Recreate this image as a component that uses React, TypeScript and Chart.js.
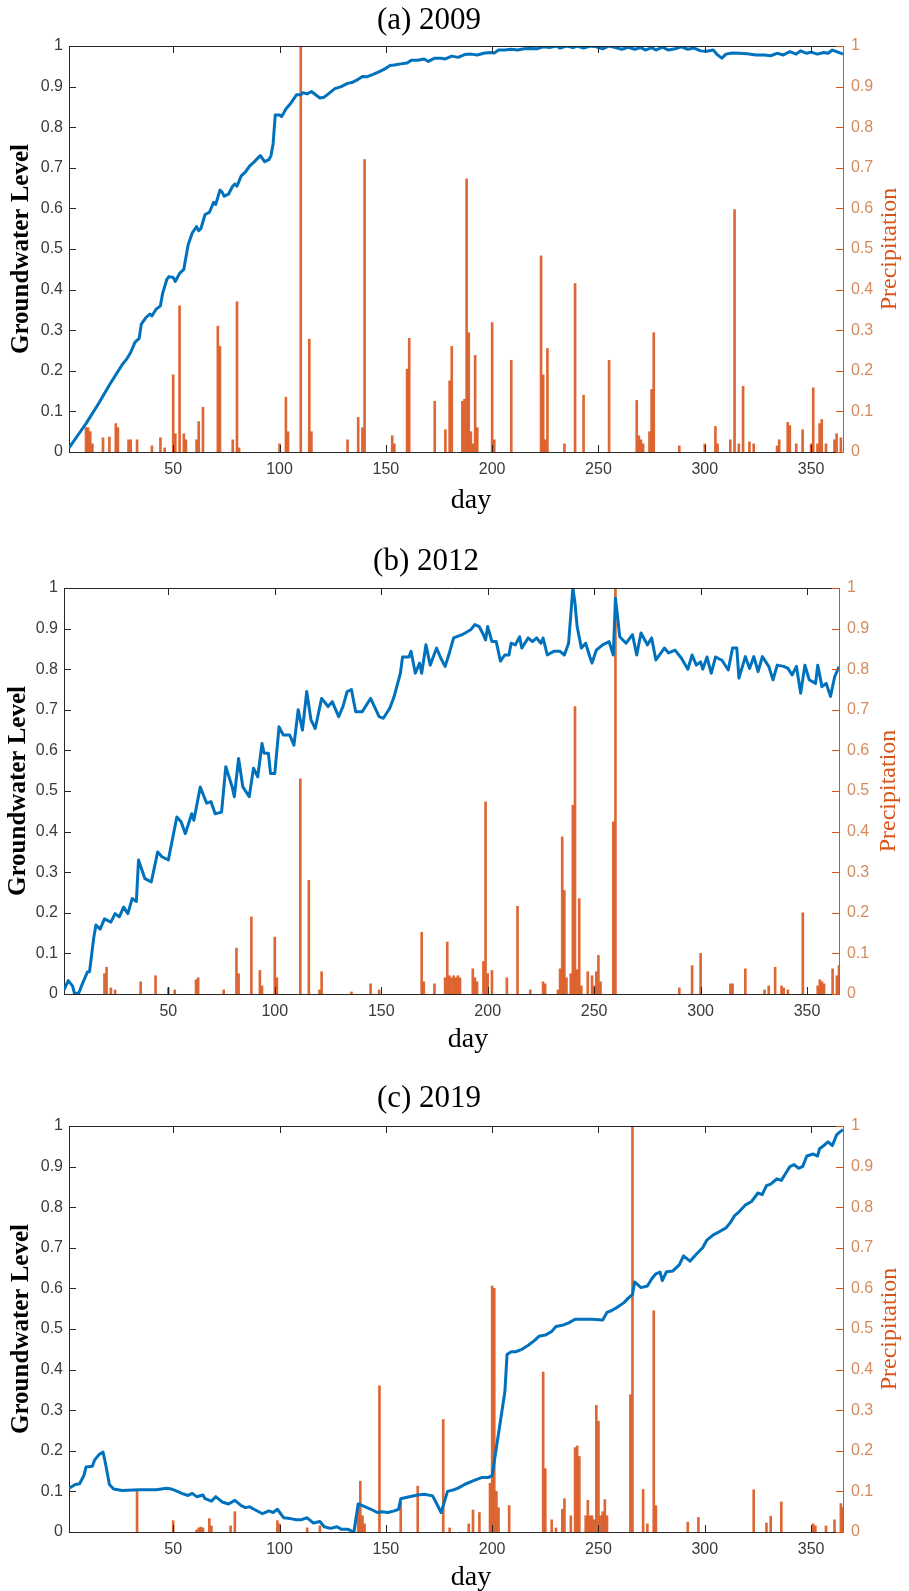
import React, { useEffect, useRef } from "react";
import { Chart, registerables } from "chart.js";

Chart.register(...registerables);

// ---------- shared axis data ----------
const DAY_MIN = 1;
const DAY_MAX = 365;
const X_TICKS = [50, 100, 150, 200, 250, 300, 350];
const X_TICK_LABELS = ["50", "100", "150", "200", "250", "300", "350"];
const Y_TICKS = [0, 0.1, 0.2, 0.3, 0.4, 0.5, 0.6, 0.7, 0.8, 0.9, 1];
const Y_TICK_LABELS = ["0", "0.1", "0.2", "0.3", "0.4", "0.5", "0.6", "0.7", "0.8", "0.9", "1"];
const X_TITLE = "day";
const Y_TITLE = "Groundwater Level";
const Y1_TITLE = "Precipitation";

// ---------- (a) 2009 ----------
const A_GW_DAY = [1, 5, 9, 15, 20, 23, 26, 28, 30, 32, 34, 35, 37, 39, 40, 42, 44, 45, 47, 48, 50, 51, 53, 55, 57, 59, 61, 62, 63, 65, 67, 69, 70, 72, 73, 74, 76, 78, 79, 80, 82, 84, 86, 88, 90, 91, 93, 95, 96, 97, 98, 100, 101, 103, 105, 107, 108, 110, 111, 113, 115, 117, 119, 121, 123, 126, 129, 132, 134, 137, 139, 141, 144, 147, 150, 152, 154, 157, 160, 162, 165, 168, 170, 173, 176, 178, 181, 184, 187, 190, 193, 196, 199, 201, 203, 206, 209, 212, 215, 218, 221, 224, 227, 230, 232, 235, 238, 240, 243, 246, 249, 252, 255, 258, 261, 264, 267, 270, 272, 275, 277, 280, 283, 286, 289, 292, 295, 298, 301, 304, 306, 308, 310, 313, 316, 320, 324, 328, 331, 334, 337, 340, 343, 345, 348, 350, 353, 356, 358, 360, 362, 365];
const A_GW = [0.01, 0.04, 0.07, 0.12, 0.165, 0.19, 0.215, 0.228, 0.245, 0.27, 0.28, 0.315, 0.33, 0.34, 0.335, 0.352, 0.36, 0.39, 0.425, 0.432, 0.43, 0.42, 0.44, 0.45, 0.51, 0.54, 0.555, 0.545, 0.55, 0.585, 0.59, 0.615, 0.61, 0.645, 0.64, 0.63, 0.635, 0.655, 0.66, 0.655, 0.68, 0.69, 0.705, 0.714, 0.725, 0.73, 0.715, 0.72, 0.73, 0.76, 0.83, 0.83, 0.826, 0.845, 0.857, 0.872, 0.88, 0.88, 0.885, 0.882, 0.888, 0.88, 0.872, 0.874, 0.882, 0.895, 0.9, 0.908, 0.91, 0.918, 0.925, 0.924, 0.93, 0.937, 0.945, 0.952, 0.953, 0.956, 0.958, 0.965, 0.965, 0.968, 0.962, 0.97, 0.97, 0.968, 0.975, 0.972, 0.979, 0.98, 0.978, 0.982, 0.984, 0.983, 0.99, 0.99, 0.992, 0.99, 0.993, 0.994, 0.993, 0.998, 0.996, 1.0, 0.995, 1.0, 0.996, 1.0, 0.995, 1.0, 0.998, 0.993, 1.0, 0.996, 0.992, 0.997, 0.992, 0.996, 0.99, 0.996, 0.99, 0.997, 0.99, 0.993, 0.998, 0.992, 0.995, 0.988, 0.987, 0.99, 0.978, 0.97, 0.98, 0.983, 0.982, 0.981, 0.978, 0.978, 0.976, 0.982, 0.978, 0.986, 0.98, 0.988, 0.982, 0.985, 0.98, 0.984, 0.982, 0.99, 0.986, 0.98];
const A_RAIN_DAY = [9, 10, 11, 12, 17, 20, 23, 24, 29, 30, 33, 40, 44, 46, 50, 51, 53, 55, 56, 61, 62, 64, 71, 72, 78, 80, 81, 100, 103, 104, 110, 114, 115, 132, 137, 139, 140, 153, 154, 160, 161, 173, 178, 180, 181, 186, 187, 188, 189, 190, 191, 192, 193, 200, 201, 209, 223, 224, 225, 226, 234, 239, 243, 255, 268, 269, 270, 271, 274, 275, 276, 288, 300, 305, 306, 312, 314, 316, 318, 321, 323, 334, 335, 339, 340, 343, 346, 350, 351, 353, 354, 355, 357, 361, 362, 364];
const A_RAIN = [0.06, 0.06, 0.05, 0.02, 0.035, 0.037, 0.07, 0.06, 0.03, 0.03, 0.03, 0.015, 0.035, 0.01, 0.19, 0.045, 0.36, 0.045, 0.03, 0.03, 0.075, 0.11, 0.31, 0.26, 0.03, 0.37, 0.01, 0.02, 0.135, 0.05, 1.0, 0.278, 0.05, 0.03, 0.085, 0.06, 0.72, 0.04, 0.02, 0.204, 0.28, 0.125, 0.055, 0.175, 0.26, 0.125, 0.13, 0.673, 0.294, 0.05, 0.02, 0.238, 0.06, 0.319, 0.03, 0.226, 0.483, 0.19, 0.03, 0.255, 0.02, 0.415, 0.14, 0.226, 0.127, 0.04, 0.03, 0.02, 0.05, 0.154, 0.294, 0.015, 0.02, 0.063, 0.02, 0.03, 0.597, 0.02, 0.162, 0.025, 0.02, 0.015, 0.03, 0.073, 0.065, 0.02, 0.055, 0.02, 0.158, 0.02, 0.07, 0.08, 0.02, 0.03, 0.045, 0.035];

// ---------- (b) 2012 ----------
const B_GW_DAY = [1, 3, 5, 6, 8, 10, 12, 13, 15, 16, 18, 20, 23, 25, 27, 29, 31, 33, 35, 36, 39, 42, 45, 47, 50, 54, 56, 58, 61, 62, 65, 68, 70, 72, 75, 77, 80, 81, 83, 85, 88, 90, 92, 94, 95, 97, 98, 100, 102, 104, 107, 109, 111, 113, 115, 117, 119, 122, 125, 127, 130, 132, 134, 136, 138, 141, 145, 149, 151, 154, 156, 159, 160, 163, 164, 166, 168, 169, 171, 173, 176, 178, 180, 182, 184, 188, 192, 194, 196, 198, 199, 200, 202, 204, 206, 208, 210, 211, 213, 215, 216, 219, 221, 223, 225, 226, 228, 231, 234, 236, 238, 240, 241, 242, 244, 246, 248, 249, 251, 254, 257, 259, 260, 261, 262, 265, 268, 270, 272, 275, 277, 279, 283, 285, 288, 291, 294, 296, 298, 300, 301, 303, 305, 307, 310, 313, 315, 317, 318, 321, 323, 325, 327, 329, 332, 334, 336, 339, 341, 343, 345, 347, 349, 351, 354, 355, 357, 359, 361, 363, 365];
const B_GW = [0.01, 0.033, 0.02, 0.0, 0.003, 0.03, 0.054, 0.055, 0.14, 0.17, 0.16, 0.185, 0.177, 0.198, 0.19, 0.214, 0.198, 0.235, 0.228, 0.33, 0.284, 0.276, 0.35, 0.338, 0.33, 0.436, 0.424, 0.395, 0.444, 0.428, 0.51, 0.47, 0.474, 0.444, 0.448, 0.56, 0.51, 0.486, 0.58, 0.51, 0.486, 0.556, 0.535, 0.617, 0.593, 0.593, 0.543, 0.543, 0.658, 0.638, 0.638, 0.613, 0.7, 0.65, 0.745, 0.675, 0.654, 0.728, 0.708, 0.72, 0.683, 0.708, 0.745, 0.75, 0.695, 0.695, 0.728, 0.683, 0.679, 0.704, 0.732, 0.79, 0.83, 0.83, 0.844, 0.79, 0.815, 0.79, 0.86, 0.81, 0.852, 0.827, 0.807, 0.84, 0.877, 0.885, 0.897, 0.91, 0.905, 0.885, 0.872, 0.905, 0.868, 0.868, 0.82, 0.835, 0.835, 0.864, 0.86, 0.88, 0.852, 0.877, 0.868, 0.877, 0.864, 0.877, 0.835, 0.844, 0.844, 0.835, 0.864, 1.0, 0.963, 0.905, 0.852, 0.864, 0.83, 0.815, 0.847, 0.86, 0.868, 0.835, 0.975, 0.93, 0.88, 0.864, 0.885, 0.835, 0.889, 0.86, 0.877, 0.823, 0.852, 0.84, 0.847, 0.827, 0.8, 0.835, 0.81, 0.818, 0.8, 0.83, 0.79, 0.83, 0.822, 0.798, 0.852, 0.852, 0.778, 0.831, 0.802, 0.831, 0.794, 0.831, 0.807, 0.774, 0.81, 0.807, 0.802, 0.786, 0.807, 0.741, 0.81, 0.774, 0.765, 0.81, 0.757, 0.765, 0.733, 0.782, 0.806];
const B_RAIN_DAY = [20, 21, 23, 25, 37, 44, 50, 53, 63, 64, 76, 82, 83, 89, 93, 94, 100, 101, 112, 116, 121, 122, 136, 145, 149, 169, 170, 175, 180, 181, 182, 183, 184, 185, 186, 187, 193, 194, 195, 198, 199, 200, 202, 209, 214, 220, 226, 227, 233, 234, 235, 236, 237, 239, 240, 241, 242, 243, 244, 247, 249, 250, 251, 252, 253, 259, 260, 290, 296, 300, 314, 315, 321, 330, 332, 335, 338, 339, 341, 348, 355, 356, 357, 358, 362, 364, 365];
const B_RAIN = [0.05, 0.066, 0.015, 0.01, 0.03, 0.045, 0.015, 0.01, 0.035, 0.04, 0.01, 0.113, 0.05, 0.19, 0.058, 0.02, 0.14, 0.04, 0.53, 0.28, 0.01, 0.055, 0.005, 0.025, 0.01, 0.152, 0.03, 0.025, 0.04, 0.128, 0.045, 0.04, 0.045, 0.04, 0.045, 0.04, 0.062, 0.04, 0.03, 0.08, 0.473, 0.05, 0.058, 0.04, 0.216, 0.01, 0.03, 0.025, 0.01, 0.062, 0.387, 0.255, 0.04, 0.05, 0.465, 0.708, 0.06, 0.235, 0.02, 0.055, 0.045, 0.02, 0.055, 0.095, 0.03, 0.424, 1.0, 0.015, 0.07, 0.1, 0.025, 0.025, 0.062, 0.01, 0.02, 0.066, 0.02, 0.015, 0.01, 0.2, 0.02, 0.035, 0.03, 0.025, 0.062, 0.045, 0.07];

// ---------- (c) 2019 ----------
const C_GW_DAY = [1, 4, 6, 8, 9, 12, 13, 15, 17, 18, 20, 22, 26, 34, 42, 47, 49, 52, 54, 57, 59, 61, 64, 65, 68, 70, 73, 76, 79, 82, 84, 86, 88, 92, 95, 97, 99, 102, 105, 108, 110, 113, 116, 119, 121, 124, 127, 129, 132, 135, 137, 139, 143, 146, 148, 151, 154, 156, 157, 161, 165, 168, 172, 174, 176, 177, 179, 182, 184, 187, 191, 195, 198, 200, 202, 204, 206, 207, 209, 211, 214, 217, 220, 222, 225, 228, 230, 233, 236, 239, 242, 247, 252, 254, 256, 259, 262, 264, 266, 267, 270, 273, 275, 277, 279, 280, 282, 285, 288, 290, 293, 296, 299, 301, 304, 307, 310, 312, 314, 316, 319, 322, 325, 327, 329, 331, 334, 336, 338, 340, 342, 344, 346, 348, 351, 353, 354, 356, 358, 360, 362, 363, 365];
const C_GW = [0.108, 0.117, 0.119, 0.139, 0.16, 0.162, 0.177, 0.19, 0.197, 0.173, 0.117, 0.106, 0.102, 0.104, 0.104, 0.108, 0.106, 0.1, 0.095, 0.09, 0.095, 0.087, 0.091, 0.082, 0.076, 0.087, 0.074, 0.069, 0.078, 0.065, 0.06, 0.062, 0.056, 0.045, 0.052, 0.048, 0.056, 0.035, 0.033, 0.03, 0.03, 0.035, 0.022, 0.026, 0.013, 0.009, 0.013, 0.007, 0.007, 0.0, 0.069, 0.065, 0.056, 0.048, 0.05, 0.048, 0.052, 0.056, 0.082, 0.087, 0.091, 0.093, 0.089, 0.069, 0.048, 0.065, 0.1, 0.104, 0.108, 0.117, 0.126, 0.134, 0.134, 0.139, 0.208, 0.277, 0.346, 0.437, 0.444, 0.444, 0.45, 0.46, 0.472, 0.482, 0.485, 0.494, 0.506, 0.509, 0.515, 0.524, 0.524, 0.524, 0.522, 0.541, 0.545, 0.554, 0.565, 0.576, 0.585, 0.616, 0.602, 0.606, 0.623, 0.636, 0.64, 0.619, 0.641, 0.643, 0.658, 0.68, 0.667, 0.684, 0.7, 0.719, 0.732, 0.74, 0.749, 0.762, 0.779, 0.788, 0.805, 0.814, 0.835, 0.831, 0.853, 0.857, 0.87, 0.866, 0.883, 0.9, 0.905, 0.896, 0.9, 0.926, 0.931, 0.926, 0.944, 0.952, 0.961, 0.952, 0.978, 0.983, 0.991];
const C_RAIN_DAY = [33, 50, 61, 62, 63, 64, 67, 68, 77, 79, 99, 100, 113, 119, 137, 138, 139, 140, 147, 157, 165, 177, 180, 189, 191, 194, 199, 200, 201, 202, 203, 208, 224, 225, 228, 230, 233, 234, 237, 239, 240, 241, 244, 245, 246, 247, 248, 249, 250, 251, 252, 253, 254, 265, 266, 271, 273, 276, 277, 292, 297, 323, 329, 331, 336, 351, 352, 357, 361, 364, 365];
const C_RAIN = [0.105, 0.028, 0.005, 0.01, 0.012, 0.01, 0.033, 0.015, 0.015, 0.05, 0.028, 0.02, 0.01, 0.015, 0.07, 0.125, 0.04, 0.02, 0.36, 0.074, 0.113, 0.277, 0.01, 0.02, 0.054, 0.048, 0.12, 0.606, 0.6, 0.1, 0.06, 0.065, 0.394, 0.156, 0.03, 0.01, 0.056, 0.082, 0.04, 0.208, 0.212, 0.186, 0.04, 0.078, 0.04, 0.04, 0.03, 0.312, 0.273, 0.04, 0.05, 0.08, 0.04, 0.338, 1.0, 0.105, 0.02, 0.545, 0.065, 0.024, 0.036, 0.104, 0.022, 0.039, 0.074, 0.02, 0.015, 0.015, 0.03, 0.07, 0.06];

// ---------- styling ----------
const SERIF = '"Liberation Serif", "Times New Roman", serif';
const SANS = '"Liberation Sans", Arial, sans-serif';
const AXIS_COLOR = "#262626";
const LEFT_TICK_COLOR = "#3a3a3a";
const RIGHT_COLOR = "#D95319";
const RIGHT_TICK_COLOR = "#d48a5c";
const LINE_COLOR = "#0072BD";
const BAR_COLOR = "rgba(217,83,25,0.88)";
const TICK_LEN = 7;

type PanelSpec = {
  key: string;
  title: string;
  gwDay: number[];
  gw: number[];
  rainDay: number[];
  rain: number[];
  top: number;
  h: number;
  padTop: number;
  xH: number;
  wL: number;
  wR: number;
  titleX: number;
  titleY: number;
  dayX: number;
  dayY: number;
  glX: number;
  prX: number;
};

const PANELS: PanelSpec[] = [
  { key: "a", title: "(a) 2009", gwDay: A_GW_DAY, gw: A_GW, rainDay: A_RAIN_DAY, rain: A_RAIN,
    top: 0, h: 517, padTop: 46, xH: 65, wL: 69, wR: 66, titleX: 429, titleY: 21, dayX: 471, dayY: 501, glX: 22, prX: 890 },
  { key: "b", title: "(b) 2012", gwDay: B_GW_DAY, gw: B_GW, rainDay: B_RAIN_DAY, rain: B_RAIN,
    top: 517, h: 539, padTop: 71, xH: 62, wL: 64, wR: 70, titleX: 426, titleY: 45, dayX: 468, dayY: 523, glX: 19, prX: 889 },
  { key: "c", title: "(c) 2019", gwDay: C_GW_DAY, gw: C_GW, rainDay: C_RAIN_DAY, rain: C_RAIN,
    top: 1056, h: 535, padTop: 70, xH: 59, wL: 69, wR: 66, titleX: 429, titleY: 43, dayX: 471, dayY: 522, glX: 22, prX: 890 },
];

function decorPlugin(p: PanelSpec) {
  return {
    id: "decor_" + p.key,
    afterDraw(chart: any) {
      const { ctx, chartArea: a, scales } = chart;
      const xs = scales.x;
      const yl = scales.y;
      const yr = scales.y1;
      ctx.save();
      ctx.lineWidth = 1;
      ctx.strokeStyle = AXIS_COLOR;
      ctx.beginPath();
      const topY = Math.round(a.top) + 0.5;
      ctx.moveTo(a.left, topY);
      ctx.lineTo(a.right, topY);
      for (const v of X_TICKS) {
        const px = Math.round(xs.getPixelForValue(v)) + 0.5;
        ctx.moveTo(px, a.bottom);
        ctx.lineTo(px, a.bottom - TICK_LEN);
        ctx.moveTo(px, a.top);
        ctx.lineTo(px, a.top + TICK_LEN);
      }
      for (const v of Y_TICKS) {
        const py = Math.round(yl.getPixelForValue(v)) + 0.5;
        ctx.moveTo(a.left, py);
        ctx.lineTo(a.left + TICK_LEN, py);
      }
      ctx.stroke();
      ctx.strokeStyle = RIGHT_COLOR;
      ctx.beginPath();
      for (const v of Y_TICKS) {
        const py = Math.round(yr.getPixelForValue(v)) + 0.5;
        ctx.moveTo(a.right, py);
        ctx.lineTo(a.right - TICK_LEN, py);
      }
      ctx.stroke();

      const midY = (a.top + a.bottom) / 2;
      ctx.textAlign = "center";
      ctx.textBaseline = "middle";
      ctx.fillStyle = "#000";
      ctx.font = `31px ${SERIF}`;
      ctx.fillText(p.title, p.titleX, p.titleY);
      ctx.font = `28px ${SERIF}`;
      ctx.fillText(X_TITLE, p.dayX, p.dayY);

      ctx.save();
      ctx.translate(p.glX, midY);
      ctx.rotate(-Math.PI / 2);
      ctx.font = `bold 25px ${SERIF}`;
      ctx.fillStyle = "#000";
      ctx.fillText(Y_TITLE, 0, 0);
      ctx.restore();

      ctx.save();
      ctx.translate(p.prX, midY);
      ctx.rotate(-Math.PI / 2);
      ctx.font = `24px ${SERIF}`;
      ctx.fillStyle = RIGHT_COLOR;
      ctx.fillText(Y1_TITLE, 0, 0);
      ctx.restore();

      ctx.restore();
    },
  };
}

function Panel({ p }: { p: PanelSpec }) {
  const ref = useRef<HTMLCanvasElement | null>(null);
  useEffect(() => {
    const canvas = ref.current;
    if (!canvas) return;
    const linePts = p.gwDay.map((d, i) => ({ x: d, y: p.gw[i] }));
    const barPts = p.rainDay.map((d, i) => ({ x: d, y: p.rain[i] }));
    const chart = new Chart(canvas, {
      type: "line",
      data: {
        datasets: [
          {
            type: "line",
            label: Y_TITLE,
            data: linePts,
            borderColor: LINE_COLOR,
            backgroundColor: LINE_COLOR,
            borderWidth: 3,
            pointRadius: 0,
            tension: 0,
            fill: false,
            borderJoinStyle: "round",
            xAxisID: "x",
            yAxisID: "y",
            order: 0,
          } as any,
          {
            type: "bar",
            label: Y1_TITLE,
            data: barPts,
            backgroundColor: BAR_COLOR,
            borderWidth: 0,
            barThickness: 2,
            xAxisID: "x",
            yAxisID: "y1",
            order: 1,
          } as any,
        ],
      },
      options: {
        responsive: false,
        maintainAspectRatio: false,
        devicePixelRatio: 1,
        animation: false,
        events: [],
        layout: { padding: { top: p.padTop, left: 0, right: 0, bottom: 0 } },
        plugins: {
          legend: { display: false },
          tooltip: { enabled: false },
          title: { display: false },
        },
        scales: {
          x: {
            type: "linear",
            position: "bottom",
            min: DAY_MIN,
            max: DAY_MAX,
            offset: false,
            grid: { display: false, drawTicks: false },
            border: { display: true, color: AXIS_COLOR, width: 1 },
            ticks: {
              autoSkip: false,
              maxRotation: 0,
              padding: 8,
              color: LEFT_TICK_COLOR,
              font: { family: SANS, size: 16 },
              callback: (_v: any, i: number) => X_TICK_LABELS[i],
            },
            afterBuildTicks: (s: any) => {
              s.ticks = X_TICKS.map((v) => ({ value: v }));
            },
            afterFit: (s: any) => {
              s.height = p.xH;
            },
          },
          y: {
            type: "linear",
            position: "left",
            min: 0,
            max: 1,
            grid: { display: false, drawTicks: false },
            border: { display: true, color: AXIS_COLOR, width: 1 },
            ticks: {
              padding: 6,
              color: LEFT_TICK_COLOR,
              font: { family: SANS, size: 16 },
              callback: (_v: any, i: number) => Y_TICK_LABELS[i],
            },
            afterBuildTicks: (s: any) => {
              s.ticks = Y_TICKS.map((v) => ({ value: v }));
            },
            afterFit: (s: any) => {
              s.width = p.wL;
            },
          },
          y1: {
            type: "linear",
            position: "right",
            min: 0,
            max: 1,
            grid: { display: false, drawTicks: false },
            border: { display: true, color: RIGHT_COLOR, width: 1 },
            ticks: {
              padding: 8,
              color: RIGHT_TICK_COLOR,
              font: { family: SANS, size: 16 },
              callback: (_v: any, i: number) => Y_TICK_LABELS[i],
            },
            afterBuildTicks: (s: any) => {
              s.ticks = Y_TICKS.map((v) => ({ value: v }));
            },
            afterFit: (s: any) => {
              s.width = p.wR;
            },
          },
        },
      } as any,
      plugins: [decorPlugin(p)],
    });
    return () => chart.destroy();
  }, [p]);
  return (
    <canvas
      ref={ref}
      width={909}
      height={p.h}
      style={{ position: "absolute", left: 0, top: p.top, width: 909, height: p.h, display: "block" }}
    />
  );
}

export default function App() {
  return (
    <div style={{ position: "absolute", left: 0, top: 0, width: 909, height: 1591, background: "#fff", overflow: "hidden" }}>
      {PANELS.map((p) => (
        <Panel key={p.key} p={p} />
      ))}
    </div>
  );
}
